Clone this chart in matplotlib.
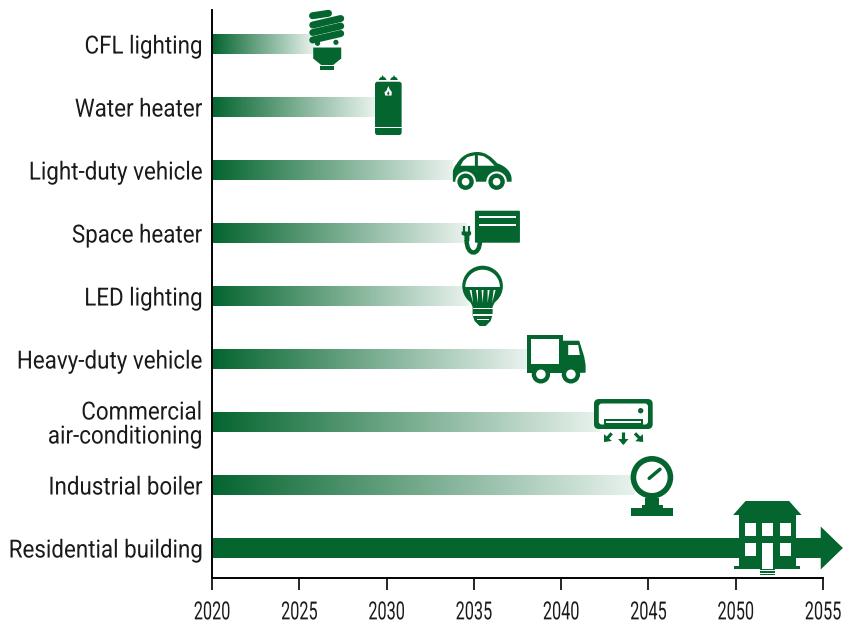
import numpy as np
import matplotlib
matplotlib.use('Agg')
import matplotlib.pyplot as plt
from matplotlib.colors import LinearSegmentedColormap
from matplotlib.patches import Circle, FancyArrow, FancyBboxPatch, PathPatch, Polygon, Rectangle
from matplotlib.patheffects import AbstractPathEffect
from matplotlib.path import Path
from matplotlib.transforms import Affine2D

categories = ['CFL lighting', 'Water heater', 'Light-duty vehicle', 'Space heater', 'LED lighting',
              'Heavy-duty vehicle', 'Commercial\nair-conditioning', 'Industrial boiler', 'Residential building']
end_years = [2025.8, 2029.3, 2033.8, 2034.6, 2034.7, 2038.0, 2042.2, 2044.2]
arrow_end = 2056.14
icon_years = [2026.6, 2030.1, 2035.5, 2036.35, 2035.5, 2039.7, 2043.56, 2045.2, 2051.8]
year_ticks = [2020, 2025, 2030, 2035, 2040, 2045, 2050, 2055]

GREEN = '#04652f'
FADE = '#e9f2ed'
W, H = 843, 626

plt.rcParams['font.family'] = ['Roboto', 'DejaVu Sans']


# no condensed font installed, so squeeze the glyphs sideways around an anchor
class Narrow(AbstractPathEffect):
    def __init__(self, sx, x):
        super().__init__()
        self.sx = sx
        self.x = x

    def draw_path(self, renderer, gc, tpath, affine, rgbFace=None):
        squeeze = Affine2D().translate(-self.x, 0).scale(self.sx, 1).translate(self.x, 0)
        renderer.draw_path(gc, tpath, affine + squeeze, rgbFace)


fig = plt.figure(figsize=(W / 100, H / 100), dpi=100)
ax = fig.add_axes([212 / W, 1 - 578 / H, (823 - 212) / W, (578 - 10) / H])
ax.set_xlim(2020, 2055)
ax.set_ylim(8.476, -0.54)

# gradient bars
fade = LinearSegmentedColormap.from_list('fade', [GREEN, FADE])
grad = np.linspace(0, 1, 256).reshape(1, -1)
bar_h = 20 / 63
for i, end in enumerate(end_years):
    ax.imshow(grad, cmap=fade, aspect='auto', extent=(2020, end, i + bar_h / 2, i - bar_h / 2), zorder=1)

ax.add_patch(FancyArrow(2020, 8, arrow_end - 2020, 0, width=bar_h, head_width=43 / 63, head_length=1.27,
                        length_includes_head=True, color=GREEN, lw=0, clip_on=False, zorder=1))

ax.spines['top'].set_visible(False)
ax.spines['right'].set_visible(False)
ax.spines['left'].set_linewidth(1.4)
ax.spines['bottom'].set_linewidth(1.4)
ax.set_yticks(range(len(categories)))
ax.set_yticklabels(categories, fontsize=18, linespacing=1.0, ha='right', color='#1a1a1a')
ax.tick_params(axis='y', length=0, pad=7)
ax.set_xticks(year_ticks)
ax.tick_params(axis='x', length=8.6, width=1.2, labelsize=18, pad=7.5, labelcolor='#1a1a1a')

for lab in ax.get_yticklabels():
    lab.set_path_effects([Narrow(0.895, 202)])
for lab, yr in zip(ax.get_xticklabels(), year_ticks):
    lab.set_path_effects([Narrow(0.65, ax.transData.transform((yr, 0))[0])])


# icon helpers, everything in local pixels around the icon centre (y down)
def place(year, row):
    x, y = ax.transData.transform((year, row))
    return Affine2D().scale(1, -1).translate(x, y)


def poly(tf, pts, c=GREEN):
    ax.add_patch(Polygon(pts, closed=True, fc=c, ec='none', transform=tf, clip_on=False, zorder=3))


def box(tf, x0, y0, x1, y1, c=GREEN):
    ax.add_patch(Rectangle((x0, y0), x1 - x0, y1 - y0, fc=c, ec='none', transform=tf, clip_on=False, zorder=3))


def rbox(tf, x0, y0, x1, y1, r=2, c=GREEN):
    ax.add_patch(FancyBboxPatch((x0 + r, y0 + r), x1 - x0 - 2 * r, y1 - y0 - 2 * r,
                                boxstyle='round,pad=%f,rounding_size=%f' % (r, r),
                                fc=c, ec='none', transform=tf, clip_on=False, zorder=3))


def dot(tf, x, y, r, c=GREEN):
    ax.add_patch(Circle((x, y), r, fc=c, ec='none', transform=tf, clip_on=False, zorder=3))


def stroke(tf, xs, ys, w, c=GREEN, cap='round'):
    ax.plot(xs, ys, color=c, lw=w * 0.72, solid_capstyle=cap, transform=tf, clip_on=False, zorder=3)


def arrow_icon(tf, x0, y0, x1, y1):
    stroke(tf, [x0, x1], [y0, y1], 3.2, cap='butt')
    d = np.array([x1 - x0, y1 - y0], dtype=float)
    d /= np.hypot(*d)
    n = np.array([-d[1], d[0]])
    tip = np.array([x1, y1]) + d * 2
    back = tip - d * 6
    poly(tf, [tip, back + n * 5.2, back - n * 5.2])


def cfl(tf):
    stroke(tf, [-14.7, 1.3], [-28.3, -30.7], 7)
    for off in (0, 7.5, 15):
        stroke(tf, [-14.5, 13.5], [-19 + off, -25.5 + off], 7)
    dot(tf, -9.7, -0.7, 2.6)
    dot(tf, 8.7, -1.7, 2.6)
    poly(tf, [(-14, 3.5), (14, 3.5), (14, 14.5), (6, 21), (-6, 21), (-14, 14.5)])
    box(tf, -7, 21.7, 7, 23.7)
    box(tf, -7, 24.3, 7, 26.3)


def water(tf):
    rbox(tf, -13.3, -25.3, 13.3, 28, r=2.5)
    box(tf, -13.3, 20.2, 13.3, 21.4, c='white')
    for x in (-5.7, 5.7):
        poly(tf, [(x - 4, -27), (x - 2.5, -29.5), (x - 1, -30), (x, -32), (x + 1, -30), (x + 2.5, -29.5), (x + 4, -27)])
    poly(tf, [(0, -21), (1.5, -17.5), (3.5, -15), (3.2, -11.5), (-3.2, -11.5), (-3.8, -15), (-2, -16)], c='white')
    poly(tf, [(0, -16), (1.2, -13.5), (0, -11.5), (-1.2, -13.5)])


def car(tf):
    verts = [(-29.7, 11.7), (-29.7, 2), (-29.7, -2), (-26, -6), (-21, -15), (-13, -18), (-5, -18),
             (3, -18), (9, -13), (14.7, -6.7), (23, -4), (29, 2), (29, 9), (29, 11.7), (-29.7, 11.7)]
    codes = [Path.MOVETO, Path.LINETO, Path.CURVE3, Path.CURVE3, Path.CURVE4, Path.CURVE4, Path.CURVE4,
             Path.CURVE4, Path.CURVE4, Path.CURVE4, Path.CURVE4, Path.CURVE4, Path.CURVE4, Path.LINETO, Path.CLOSEPOLY]
    ax.add_patch(PathPatch(Path(verts, codes), fc=GREEN, ec='none', transform=tf, clip_on=False, zorder=3))
    poly(tf, [(-22, -4.3), (-19.5, -9), (-15, -13), (-7.7, -14.8), (-7.7, -4.3)], c='white')
    poly(tf, [(-4.7, -14.8), (1, -13.8), (6, -10.5), (12, -4.3), (-4.7, -4.3)], c='white')
    for x in (-17, 14):
        dot(tf, x, 11.7, 10.3, c='white')
        dot(tf, x, 11.7, 8.2)
        dot(tf, x, 11.7, 3.8, c='white')


def heater(tf):
    rbox(tf, -22.5, -22.3, 22.5, 9.7, r=1)
    for y in (-16.3, -8):
        box(tf, -18.2, y - 1.2, 18.5, y + 1.2, c='white')
    for x in (-33.3, -28.5):
        stroke(tf, [x, x], [-7, -1], 2.2, cap='butt')
    poly(tf, [(-35.8, -1.5), (-26.3, -1.5), (-26.3, 1.5), (-28, 3), (-28, 8), (-33, 8), (-33, 3), (-35.8, 1.5)])
    verts = [(-30.8, 7), (-30.8, 23.5), (-17.5, 23.5), (-17.5, 8)]
    curve = Path(verts, [Path.MOVETO, Path.CURVE4, Path.CURVE4, Path.CURVE4])
    ax.add_patch(PathPatch(curve, fc='none', ec=GREEN, lw=3.2, transform=tf, clip_on=False, zorder=3))


def led(tf):
    dot(tf, 0, -10, 20.3)
    t = np.linspace(np.pi, 2 * np.pi, 40)
    poly(tf, np.column_stack([17.3 * np.cos(t), -9 + 17.3 * np.sin(t)]), c='white')
    poly(tf, [(-19, -7.7), (19, -7.7), (10, 10.7), (10, 19), (8, 25), (3, 30), (-3, 30), (-8, 25), (-10, 19), (-10, 10.7)])
    for x, lean in ((-12, 2.5), (-6, 1), (0, 0), (6, -1), (12, -2.5)):
        poly(tf, [(x - 1, -6), (x + 1, -6), (x + lean, 7)], c='white')
    box(tf, -10, 11.5, 10, 13, c='white')
    box(tf, -10, 18.2, 10, 19.7, c='white')
    box(tf, -6, 22.6, 6, 24, c='white')


def truck(tf):
    box(tf, -29.3, -24, 6.7, 14.3)
    box(tf, -25, -19.7, 3, 5.3, c='white')
    poly(tf, [(6.7, -18.3), (23.3, -18.3), (28.3, -2.3), (29.7, 6), (29.7, 13.7), (6.7, 14.3)])
    poly(tf, [(12.3, -14), (22.3, -14), (24, -4), (12.3, -4)], c='white')
    for x in (-15, 15):
        dot(tf, x, 15.3, 9.2)
        dot(tf, x, 15.3, 4.8, c='white')


def aircon(tf):
    rbox(tf, -29.3, -23, 29.4, 7, r=5)
    rbox(tf, -24.5, -18.5, 24.7, 2.5, r=3, c='white')
    dot(tf, 17.4, -11.3, 2.7)
    box(tf, -19.3, -2.7, 20, 4.5)
    box(tf, -17.5, -0.8, 18.2, 1.2, c='white')
    arrow_icon(tf, 0, 10.3, 0, 21)
    arrow_icon(tf, -11.6, 11.3, -18, 18.5)
    arrow_icon(tf, 11.7, 11.3, 18.5, 18.5)


def boiler(tf):
    dot(tf, 0, -7.7, 21.3)
    dot(tf, 0, -7.7, 15.7, c='white')
    stroke(tf, [-2.7, 8], [-6.7, -15.7], 3.5)
    box(tf, -7, 13, 7, 20)
    box(tf, -10.3, 20, 11.3, 24)
    box(tf, -21.3, 23.3, 21.3, 30.7)


def house(tf):
    poly(tf, [(-34, -33), (-21.6, -47), (22, -47), (34.4, -33)])
    box(tf, -28.3, -33.5, 28.7, 18.7)
    box(tf, -33, 18, 32.7, 21.3)
    for x0, x1 in ((-22.3, -11.6), (-5, 6), (12.7, 23.4)):
        box(tf, x0, -25.3, x1, -12.3, c='white')
    for x0, x1 in ((-22.3, -11.6), (12.7, 23.4)):
        box(tf, x0, -4.7, x1, 8, c='white')
    box(tf, -5, -4.7, 6, 21.3, c='white')
    for y in (21.3, 23.9, 26.4):
        box(tf, -7.3, y - 0.8, 7.7, y + 0.8)


icons = [cfl, water, car, heater, led, truck, aircon, boiler, house]
for i, (draw, yr) in enumerate(zip(icons, icon_years)):
    draw(place(yr, i))

fig.savefig('out.png', dpi=100)
